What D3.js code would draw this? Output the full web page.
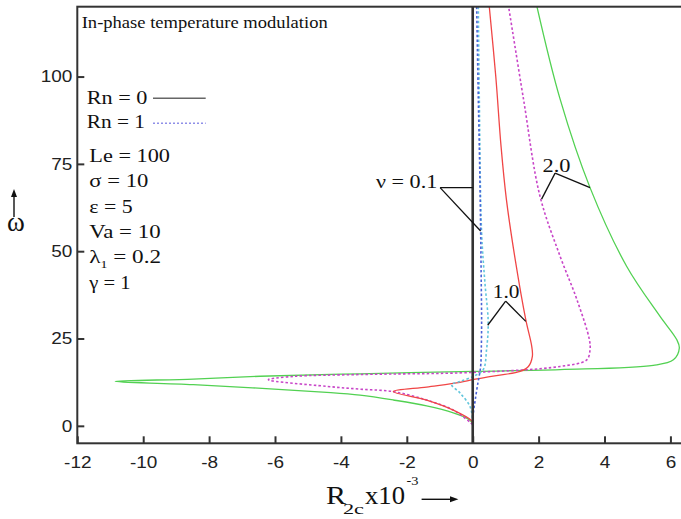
<!DOCTYPE html>
<html><head><meta charset="utf-8">
<script src="https://cdn.jsdelivr.net/npm/d3@7"></script>
<style>body{margin:0;background:#fff} svg{display:block}</style>
</head><body>
<svg id="c" width="681" height="519"></svg>
<script>
// ---------------- DATA ----------------
const xTicks = [-12, -10, -8, -6, -4, -2, 0, 2, 4, 6];
const yTicks = [0, 25, 50, 75, 100];

// nu = 0.1, Rn = 0 (black)
const nu01Rn0R = [0, 0];
const nu01Rn0W = [-5, 120];
// nu = 0.1, Rn = 1 (blue dotted)
const nu01Rn1R = [0.12, 0.17, 0.21, 0.24, 0.26, 0.27, 0.26, 0.24, 0.14, 0.07, 0.02, 0];
const nu01Rn1W = [120, 93.6, 75, 56.3, 40, 29.5, 22, 17.0, 11.3, 7, 3.6, 0];
// nu = 1.0, Rn = 0 (red)
const nu1Rn0R = [0.50, 0.70, 0.86, 1.02, 1.30, 1.61, 1.79, 1.81, 1.69, 1.44, 0.72, 0, -0.385, -1.40, -2.41, -1.40, -0.59, -0.03, 0];
const nu1Rn0W = [120.3, 100, 80, 65, 47, 30.4, 22.8, 19.9, 17.0, 15.6, 14.4, 13.2, 12.43, 11.1, 9.8, 7.39, 4.52, 1.46, 0.6];
// nu = 1.0, Rn = 1 (cyan dotted)
const nu1Rn1R = [0.17, 0.2, 0.27, 0.37, 0.47, 0.42, 0.32, 0.05, -0.385, -0.64, -0.385, -0.08, 0];
const nu1Rn1W = [120, 93.6, 55.3, 41, 29.5, 21.8, 16.1, 14.3, 12.7, 11.8, 9.4, 5.5, 1.5];
// nu = 2.0, Rn = 0 (green)
const nu2Rn0R = [1.94, 2.65, 3.56, 4.67, 5.68, 6.19, 6.27, 6.09, 5.48, 2.65, 0.02, -3.42, -6.45, -8.48, -10.85, -8.48, -4.43, -3.42, -2.41, -1.40, -0.59, -0.14, 0.01];
const nu2Rn0W = [120.4, 93.6, 68.2, 45.7, 31.4, 24.7, 22.3, 18.9, 17.3, 16.1, 15.6, 14.9, 14.2, 13.4, 12.7, 11.8, 9.6, 8.8, 7.4, 5.7, 3.7, 1.95, 0.66];
// nu = 2.0, Rn = 1 (magenta dotted)
const nu2Rn1R = [1.10, 1.54, 2.04, 2.65, 3.16, 3.54, 3.56, 3.46, 2.65, 0.02, -3.42, -5.44, -6.2, -4.43, -3.42, -2.41, -1.40, -0.59, 0];
const nu2Rn1W = [119.4, 93.6, 65.8, 48.6, 36.2, 24.7, 21.8, 18.9, 17.0, 15.3, 14.7, 14.15, 13.2, 11.3, 10.5, 9.8, 7.39, 4.52, 0.4];

// annotations (data units)
const annTexts = ["ν = 0.1", "1.0", "2.0"];
const annTextR = [-2.935, 0.607, 2.12];
const annTextW = [68.2, 36.7, 72.7];
const annApexR = [-0.99, 1.0, 2.50];
const annApexW = [68.2, 35.7, 72.35];
const annEndsR = [[0.0, 0.24], [1.61, 0.455], [3.56, 2.09]];
const annEndsW = [[68.2, 55.8], [29.9, 28.8], [68.2, 64.9]];

const titleText = "In-phase temperature modulation";
const legendLabels = ["Rn = 0", "Rn = 1"];
const paramMain = ["Le = 100", "σ = 10", "ε = 5", "Va = 10", "λ", "γ = 1"];
const paramSub = ["", "", "", "", "1", ""];
const paramRest = ["", "", "", "", " = 0.2", ""];

// ---------------- STYLES / LAYOUT ----------------
const series = [
  {R: nu2Rn0R, W: nu2Rn0W, color: "#52d152", width: 1.3, dash: null},
  {R: nu2Rn1R, W: nu2Rn1W, color: "#c845c8", width: 1.6, dash: "2.5,2.2"},
  {R: nu1Rn0R, W: nu1Rn0W, color: "#f04646", width: 1.3, dash: null},
  {R: nu1Rn1R, W: nu1Rn1W, color: "#62c6dc", width: 1.6, dash: "2.5,2.2"},
  {R: nu01Rn1R, W: nu01Rn1W, color: "#4a62d8", width: 1.6, dash: "2.5,2.2"},
  {R: nu01Rn0R, W: nu01Rn0W, color: "#333", width: 2.6, dash: null}
];
const serif = "'Liberation Serif','Times New Roman',Times,serif";
const sans = "'Liberation Sans',Arial,Helvetica,sans-serif";

const svg = d3.select("#c");
const x = d3.scaleLinear().domain([-12, 6.5]).range([77.3, 686.9]);
const y = d3.scaleLinear().domain([-5, 120]).range([443.3, 6.7]);

svg.append("defs").append("clipPath").attr("id", "clip")
  .append("rect").attr("x", x(-12)).attr("y", y(120))
  .attr("width", x(6.5) - x(-12)).attr("height", y(-5) - y(120));

// curves
const line = d3.line().x(d => x(d[0])).y(d => y(d[1])).curve(d3.curveCatmullRom.alpha(0.5));
const gc = svg.append("g").attr("clip-path", "url(#clip)");
series.forEach(s => {
  const pts = s.R.map((r, i) => [r, s.W[i]]);
  gc.append("path").attr("d", line(pts)).attr("fill", "none")
    .attr("stroke", s.color).attr("stroke-width", s.width)
    .attr("stroke-dasharray", s.dash).attr("stroke-linejoin", "round");
});

// frame
svg.append("rect").attr("x", x(-12)).attr("y", y(120))
  .attr("width", x(6.5) - x(-12)).attr("height", y(-5) - y(120))
  .attr("fill", "none").attr("stroke", "#333").attr("stroke-width", 2);

// axes
const sx = 1.15;
const gx = svg.append("g").attr("transform", `translate(0,${y(-5)})`)
  .call(d3.axisBottom(x).tickValues(xTicks).tickSizeInner(-7).tickSizeOuter(0)
    .tickPadding(13).tickFormat(d => String(d)));
gx.select(".domain").remove();
gx.selectAll(".tick line").attr("stroke", "#333").attr("stroke-width", 2);
gx.selectAll(".tick text").attr("font-family", sans).attr("font-size", 16.5)
  .attr("fill", "#222").attr("transform", `scale(${sx},1)`);

const gy = svg.append("g").attr("transform", `translate(${x(-12)},0)`)
  .call(d3.axisLeft(y).tickValues(yTicks).tickSizeInner(-7).tickSizeOuter(0)
    .tickPadding(5).tickFormat(d => String(d)));
gy.select(".domain").remove();
gy.selectAll(".tick line").attr("stroke", "#333").attr("stroke-width", 2);
gy.selectAll(".tick text").attr("font-family", sans).attr("font-size", 16.5)
  .attr("fill", "#222").attr("x", -5 / sx).attr("transform", `scale(${sx},1)`);

// annotations
const annWidths = [61.3, 26.7, 28];
annTexts.forEach((t, i) => {
  svg.append("text").attr("x", x(annTextR[i])).attr("y", y(annTextW[i]))
    .attr("font-family", serif).attr("font-size", 19.5).attr("fill", "#111")
    .attr("textLength", annWidths[i]).attr("lengthAdjust", "spacingAndGlyphs").text(t);
  annEndsR[i].forEach((er, j) => {
    svg.append("line").attr("x1", x(annApexR[i])).attr("y1", y(annApexW[i]))
      .attr("x2", x(er)).attr("y2", y(annEndsW[i][j]))
      .attr("stroke", "#111").attr("stroke-width", 1.3);
  });
});

// title & legend
svg.append("text").attr("x", 81.7).attr("y", 27.5).attr("font-family", serif)
  .attr("font-size", 17.5).attr("fill", "#111")
  .attr("textLength", 246).attr("lengthAdjust", "spacingAndGlyphs").text(titleText);

const legY = [104, 128.3];
const legW = [60.7, 58.3];
const legLineY = [98.3, 123.3];
const legStyle = [{c: "#666", w: 1.4, d: null}, {c: "#8f8fe8", w: 1.5, d: "2,2"}];
legendLabels.forEach((t, i) => {
  svg.append("text").attr("x", 86.7).attr("y", legY[i]).attr("font-family", serif)
    .attr("font-size", 18.5).attr("fill", "#111")
    .attr("textLength", legW[i]).attr("lengthAdjust", "spacingAndGlyphs").text(t);
  svg.append("line").attr("x1", 153).attr("x2", 205.7).attr("y1", legLineY[i]).attr("y2", legLineY[i])
    .attr("stroke", legStyle[i].c).attr("stroke-width", legStyle[i].w).attr("stroke-dasharray", legStyle[i].d);
});

const parY = [161.7, 187.3, 212.7, 238.3, 263.3, 289.3];
const parW = [80.7, 59, 43.3, 71.3, 71.7, 41.3];
paramMain.forEach((t, i) => {
  const tx = svg.append("text").attr("x", 89.3).attr("y", parY[i]).attr("font-family", serif)
    .attr("font-size", 18.5).attr("fill", "#111")
    .attr("textLength", parW[i]).attr("lengthAdjust", "spacingAndGlyphs");
  tx.append("tspan").text(t);
  if (paramSub[i]) {
    tx.append("tspan").attr("font-size", 11).attr("dy", 5).text(paramSub[i]);
    tx.append("tspan").attr("dy", -5).text(paramRest[i]);
  }
});

// x-axis title
const xt = svg.append("g").attr("font-family", serif).attr("fill", "#111");
xt.append("text").attr("x", 326).attr("y", 503.5).attr("font-size", 25)
  .attr("textLength", 20).attr("lengthAdjust", "spacingAndGlyphs").text("R");
xt.append("text").attr("x", 343).attr("y", 514).attr("font-size", 15)
  .attr("textLength", 21).attr("lengthAdjust", "spacingAndGlyphs").text("2c");
xt.append("text").attr("x", 365).attr("y", 503.5).attr("font-size", 25)
  .attr("textLength", 40).attr("lengthAdjust", "spacingAndGlyphs").text("x10");
xt.append("text").attr("x", 406.5).attr("y", 485).attr("font-size", 13)
  .attr("textLength", 12).attr("lengthAdjust", "spacingAndGlyphs").text("-3");
xt.append("line").attr("x1", 421.6).attr("x2", 452).attr("y1", 499.3).attr("y2", 499.3)
  .attr("stroke", "#111").attr("stroke-width", 1.4);
xt.append("path").attr("d", "M458.4,499.3 L450,496.3 L450,502.3 Z").attr("fill", "#111");

// y-axis title
const yt = svg.append("g").attr("font-family", serif).attr("fill", "#111");
yt.append("text").attr("x", 16).attr("y", 231).attr("font-size", 27)
  .attr("text-anchor", "middle").text("ω");
yt.append("line").attr("x1", 14).attr("x2", 14).attr("y1", 217).attr("y2", 196)
  .attr("stroke", "#111").attr("stroke-width", 1.4);
yt.append("path").attr("d", "M14,189 L11,197 L17,197 Z").attr("fill", "#111");
</script>
</body></html>
